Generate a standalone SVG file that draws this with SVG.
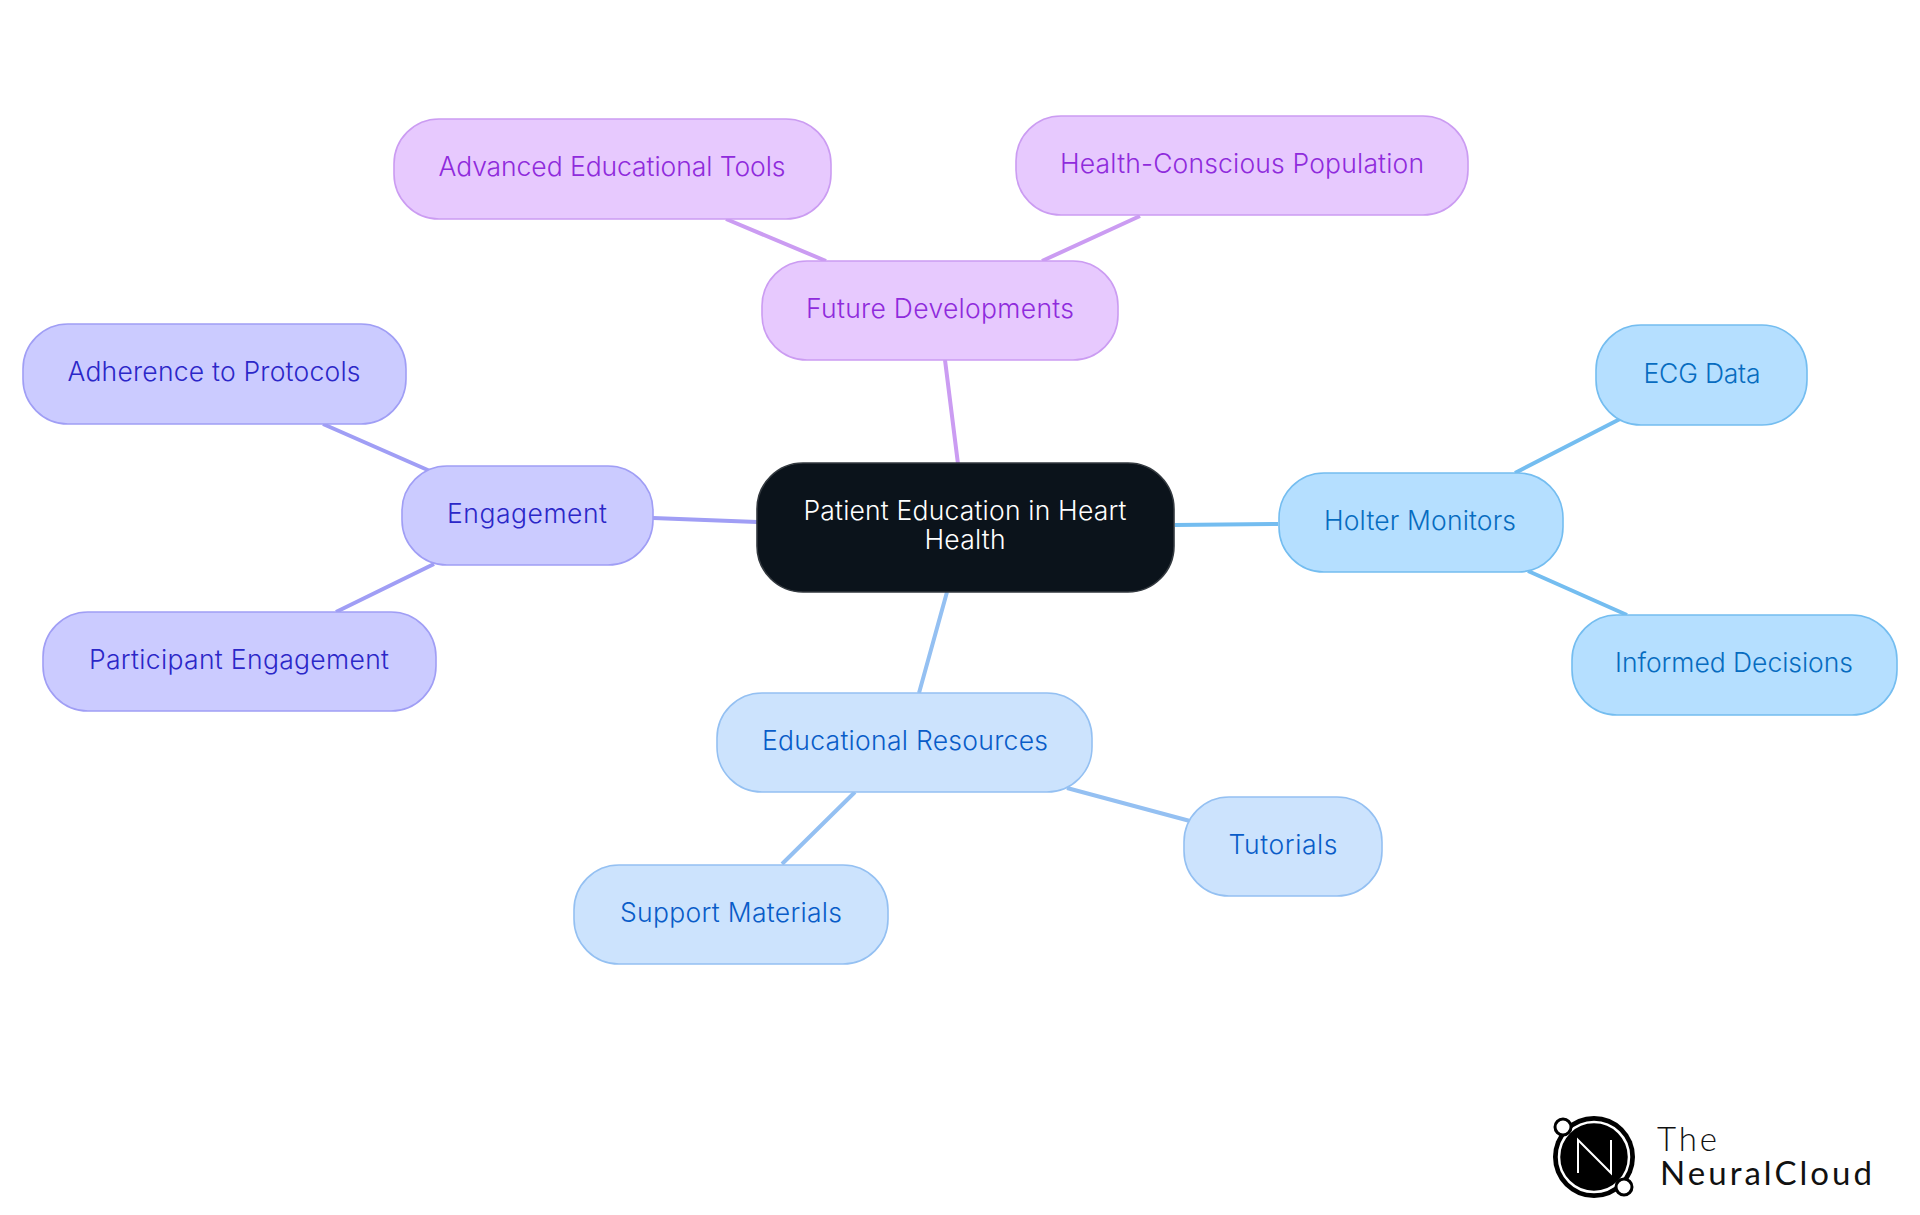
<svg xmlns="http://www.w3.org/2000/svg" width="1920" height="1215" viewBox="0 0 1920 1215">
<style>
text{font-family:"Inter","Noto Sans","Liberation Sans",sans-serif;font-size:26.5px;text-anchor:middle;font-weight:350}
.edge{fill:none;stroke-width:4}
rect{stroke-width:1.6}
.p rect{fill:#e7c9fe;stroke:#cb9cf2}.p text{fill:#8f2bdc}
.i rect{fill:#cbcbff;stroke:#a09ef5}.i text{fill:#2b27c8}
.s rect{fill:#b5dfff;stroke:#74bdf0}.s text{fill:#076cc0}
.b rect{fill:#cce3fd;stroke:#94c0f2}.b text{fill:#095cc8}
.l{font-family:Lato,sans-serif;font-size:33px;text-anchor:start}
</style>
<rect width="1920" height="1215" fill="#fff"/>
<g id="connectors">
<path class="edge" stroke="#cb9cf2" d="M958 464L945 360M1042 261L1140 216M826 261L726 219"/>
<path class="edge" stroke="#a09ef5" d="M757 522L653 518M430 471L323 424M336 612L434 564"/>
<path class="edge" stroke="#74bdf0" d="M1175 525L1278 524M1515 473L1620 419M1528 571L1627 615"/>
<path class="edge" stroke="#94c0f2" d="M947 592L919 693M1067 788L1190 821M855 792L782 864"/>
</g>
<g id="center"><rect x="757" y="463" width="417" height="129" rx="46" fill="#0b131b" stroke="#33393f"/><text x="965" y="520" fill="#fff" textLength="323">Patient Education in Heart</text><text x="965" y="549" fill="#fff" textLength="81">Health</text></g>
<g id="future" class="p"><rect x="762" y="261" width="356" height="99" rx="45"/><text x="940" y="318" textLength="268">Future Developments</text></g>
<g id="tools" class="p"><rect x="394" y="119" width="437" height="100" rx="45"/><text x="612" y="176" textLength="347">Advanced Educational Tools</text></g>
<g id="population" class="p"><rect x="1016" y="116" width="452" height="99" rx="45"/><text x="1242" y="173" textLength="364">Health-Conscious Population</text></g>
<g id="engagement" class="i"><rect x="402" y="466" width="251" height="99" rx="45"/><text x="527" y="523" textLength="160">Engagement</text></g>
<g id="adherence" class="i"><rect x="23" y="324" width="383" height="100" rx="45"/><text x="214" y="381" textLength="293">Adherence to Protocols</text></g>
<g id="participant" class="i"><rect x="43" y="612" width="393" height="99" rx="45"/><text x="239" y="669" textLength="300">Participant Engagement</text></g>
<g id="holter" class="s"><rect x="1279" y="473" width="284" height="99" rx="45"/><text x="1420" y="530" textLength="192">Holter Monitors</text></g>
<g id="ecg" class="s"><rect x="1596" y="325" width="211" height="100" rx="45"/><text x="1702" y="383" textLength="117">ECG Data</text></g>
<g id="informed" class="s"><rect x="1572" y="615" width="325" height="100" rx="45"/><text x="1734" y="672" textLength="238">Informed Decisions</text></g>
<g id="resources" class="b"><rect x="717" y="693" width="375" height="99" rx="45"/><text x="905" y="750" textLength="286">Educational Resources</text></g>
<g id="tutorials" class="b"><rect x="1184" y="797" width="198" height="99" rx="45"/><text x="1283" y="854" textLength="109">Tutorials</text></g>
<g id="support" class="b"><rect x="574" y="865" width="314" height="99" rx="45"/><text x="731" y="922" textLength="222">Support Materials</text></g>
<g id="logo">
<circle cx="1594" cy="1157" r="41" fill="#000"/><circle cx="1594" cy="1157" r="35" fill="none" stroke="#fff" stroke-width="2.5"/>
<circle cx="1563" cy="1127" r="8" fill="#fff" stroke="#000" stroke-width="3"/><circle cx="1624" cy="1187" r="8" fill="#fff" stroke="#000" stroke-width="3"/>
<path d="M1578 1173V1140L1611 1173V1140" fill="none" stroke="#fff" stroke-width="2"/>
<text class="l" x="1657" y="1151" textLength="60" style="font-weight:300" fill="#111">The</text>
<text class="l" x="1660" y="1185" textLength="212" style="font-weight:400" fill="#111">NeuralCloud</text>
</g>
</svg>
